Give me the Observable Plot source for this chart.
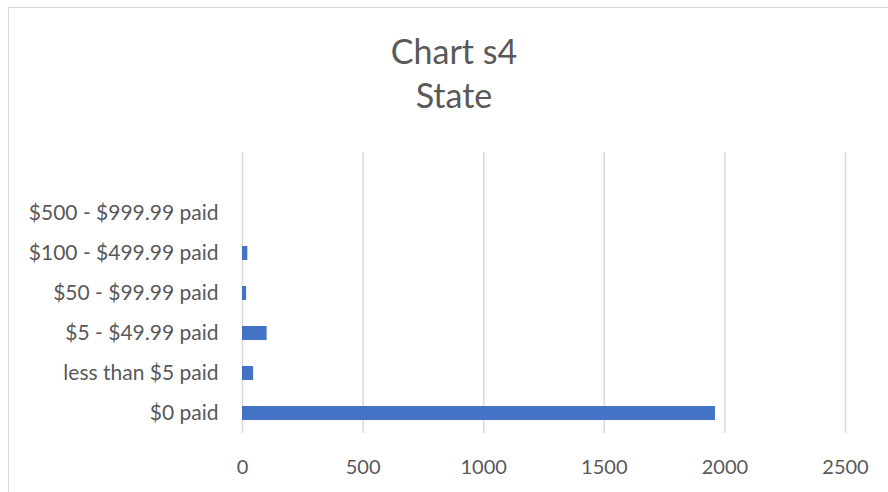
<!DOCTYPE html>
<html>
<head>
<meta charset="utf-8">
<script src="https://cdn.jsdelivr.net/npm/d3@7"></script>
<script src="https://cdn.jsdelivr.net/npm/@observablehq/plot@0.6"></script>
<style>
  body { margin: 0; background: #fff; }
  #wrap { position: relative; width: 888px; height: 492px; overflow: hidden; background: #fff; font-family: Lato, "Open Sans", sans-serif; }
  #border { position: absolute; left: 8px; top: 7px; width: 960px; height: 560px; border: 1.5px solid #d9d9d9; box-sizing: border-box; }
  #title { position: absolute; left: 354px; width: 200px; top: 29px; text-align: center; color: #595959; font-size: 34px; line-height: 44px; }
  #chart { position: absolute; left: 0; top: 0; }
</style>
</head>
<body>
<div id="wrap">
  <div id="border"></div>
  <div id="title">Chart s4<br>State</div>
  <div id="chart"></div>
</div>
<script>
const categories = ["$0 paid", "less than $5 paid", "$5 - $49.99 paid", "$50 - $99.99 paid", "$100 - $499.99 paid", "$500 - $999.99 paid"];
const values = [1961, 46, 102, 17, 22, 0];
const xTicks = [0, 500, 1000, 1500, 2000, 2500];

const data = categories.map((c, i) => ({category: c, value: values[i]}));
const yDomain = [""].concat(categories.slice().reverse());

const chart = Plot.plot({
  width: 888,
  height: 492,
  marginLeft: 242,
  marginRight: 43,
  marginTop: 152,
  marginBottom: 59,
  style: {fontFamily: "Lato, 'Open Sans', sans-serif", color: "#595959", background: "transparent"},
  x: {domain: [0, 2500], ticks: xTicks},
  y: {domain: yDomain, paddingInner: 0.65, paddingOuter: 0.325, align: 0.5},
  marks: [
    Plot.gridX(xTicks, {stroke: "#d9d9d9", strokeOpacity: 1, strokeWidth: 1.5}),
    Plot.barX(data, {x: "value", y: "category", fill: "#4472C4"}),
    Plot.axisX({ticks: xTicks, tickFormat: d3.format("d"), tickSize: 0, tickPadding: 26, fontSize: 20, fill: "#595959", label: null}),
    Plot.axisY({tickSize: 0, tickPadding: 24, fontSize: 21, fill: "#595959", label: null})
  ]
});
document.getElementById("chart").appendChild(chart);
</script>
</body>
</html>
